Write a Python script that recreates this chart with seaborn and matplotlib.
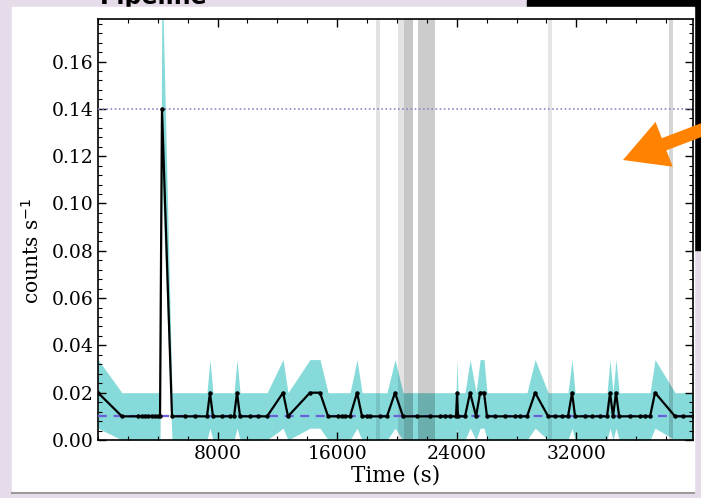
import numpy as np
import pandas as pd
import matplotlib
matplotlib.use("Agg")
import matplotlib.pyplot as plt
import seaborn as sns
from matplotlib.patches import Rectangle, FancyArrow
from matplotlib.ticker import MultipleLocator, FixedLocator

# ---------------- data ----------------
time_s = [0, 1600, 2680, 2940, 3140, 3350, 3610, 3810, 4010, 4150, 4280, 4950,
          5820, 6490, 7290, 7490, 7690, 8300, 8830, 9100, 9300, 9500, 10170,
          10700, 11310, 12380, 12710, 14180, 14850, 15390, 16060, 16320, 16520,
          16860, 17330, 17660, 18000, 18200, 18870, 19330, 19870, 20400, 21340,
          22210, 22880, 23210, 23550, 23950, 24020, 24080, 24550, 24890, 25290,
          25560, 25820, 26020, 26560, 27230, 27900, 28230, 28700, 29240, 30110,
          30570, 31040, 31440, 31710, 31910, 32580, 33050, 33590, 34050, 34250,
          34450, 34650, 34860, 35590, 36260, 36590, 36930, 37260, 38600, 39140,
          39800]
rate = [0.02, 0.01, 0.01, 0.01, 0.01, 0.01, 0.01, 0.01, 0.01, 0.01, 0.14, 0.01,
        0.01, 0.01, 0.01, 0.02, 0.01, 0.01, 0.01, 0.01, 0.02, 0.01, 0.01,
        0.01, 0.01, 0.02, 0.01, 0.02, 0.02, 0.01, 0.01, 0.01, 0.01,
        0.01, 0.02, 0.01, 0.01, 0.01, 0.01, 0.01, 0.02, 0.01, 0.01,
        0.01, 0.01, 0.01, 0.01, 0.01, 0.02, 0.01, 0.01, 0.02, 0.01,
        0.02, 0.02, 0.01, 0.01, 0.01, 0.01, 0.01, 0.01, 0.02, 0.01,
        0.01, 0.01, 0.01, 0.02, 0.01, 0.01, 0.01, 0.01, 0.01, 0.02,
        0.01, 0.02, 0.01, 0.01, 0.01, 0.01, 0.01, 0.02, 0.01, 0.01,
        0.01]
# error band edges per count level
band_low_by_level = {0.01: 0.0, 0.02: 0.005, 0.14: 0.11}
band_high_by_level = {0.01: 0.02, 0.02: 0.034, 0.14: 0.20}
band_low = [band_low_by_level[r] for r in rate]
band_high = [band_high_by_level[r] for r in rate]

mean_level = 0.01
threshold_level = 0.14

# excluded intervals (start, end, shade alpha)
gap_start = [18600, 20070, 20470, 21410, 30100, 38200]
gap_end = [18870, 21070, 21070, 22540, 30370, 38470]
gap_alpha = [0.11, 0.11, 0.12, 0.2, 0.1, 0.16]

x_ticks = [8000, 16000, 24000, 32000]
y_ticks = [0.00, 0.02, 0.04, 0.06, 0.08, 0.10, 0.12, 0.14, 0.16]

df = pd.DataFrame({"time": time_s, "rate": rate})

# ---------------- figure ----------------
W, H = 701, 498
fig = plt.figure(figsize=(W / 100, H / 100), dpi=100)
lav = "#e6dce9"
fig.patch.set_facecolor(lav)

# background overlay (pixel coordinates)
bg = fig.add_axes([0, 0, 1, 1], zorder=0)
bg.set_xlim(0, W)
bg.set_ylim(H, 0)
bg.axis("off")
bg.text(100, 4, "Pipeline", fontsize=17, fontweight="bold", family="DejaVu Sans",
        color="black", va="baseline", ha="left", zorder=1)
bg.add_patch(Rectangle((527, 0), W - 527, 8, color="black", zorder=2))
bg.add_patch(Rectangle((694, 0), 7, 250, color="black", zorder=2))
bg.add_patch(Rectangle((12, 7), 682, 486, color="white", zorder=3))
bg.plot([12, 694], [493, 493], color="#9a9a9a", lw=1.5, zorder=4)

# main axes
ax = fig.add_axes([98 / W, 1 - 440 / H, 595 / W, 421 / H], zorder=2)
ax.set_facecolor("white")

ax.fill_between(time_s, band_low, band_high, color="#86dada", lw=0, zorder=1)
for s, e, a in zip(gap_start, gap_end, gap_alpha):
    ax.axvspan(s, e, color="black", alpha=a, lw=0, zorder=2)
ax.axhline(mean_level, color="#6a5fd8", ls=(0, (4, 3)), lw=1.6, zorder=3)
ax.axhline(threshold_level, color="#9484c0", ls=(0, (1, 1.5)), lw=1.2, zorder=3)
sns.lineplot(data=df, x="time", y="rate", ax=ax, color="black", lw=1.6,
             marker="o", markersize=3.2, markeredgewidth=0, zorder=4)

ax.set_xlim(0, 39800)
ax.set_ylim(0, 0.178)
ax.xaxis.set_major_locator(FixedLocator(x_ticks))
ax.xaxis.set_minor_locator(MultipleLocator(2000))
ax.yaxis.set_major_locator(FixedLocator(y_ticks))
ax.yaxis.set_minor_locator(MultipleLocator(0.004))
ax.set_yticklabels([f"{v:.2f}" for v in y_ticks])
ax.tick_params(which="both", direction="in", top=True, right=True,
               labelsize=13.5, colors="black")
ax.tick_params(which="major", length=6, width=1)
ax.tick_params(which="minor", length=3, width=0.8)
for lab in ax.get_xticklabels() + ax.get_yticklabels():
    lab.set_family("DejaVu Serif")
for sp in ax.spines.values():
    sp.set_color("black")
    sp.set_linewidth(1.2)
ax.set_xlabel("Time (s)", fontsize=15.5, family="DejaVu Serif", labelpad=1)
ax.set_ylabel("counts s$^{-1}$", fontsize=14.5, family="DejaVu Serif")
ax.yaxis.set_label_coords(-0.093, 0.45)

# foreground overlay for the arrow
fg = fig.add_axes([0, 0, 1, 1], zorder=5)
fg.set_xlim(0, W)
fg.set_ylim(H, 0)
fg.axis("off")
fg.patch.set_alpha(0)
fg.add_patch(FancyArrow(712, 126, -89, 34, width=13, head_width=48,
                        head_length=44, length_includes_head=True,
                        color="#ff8200", lw=0))

fig.savefig("out.png", dpi=100, facecolor=lav)
